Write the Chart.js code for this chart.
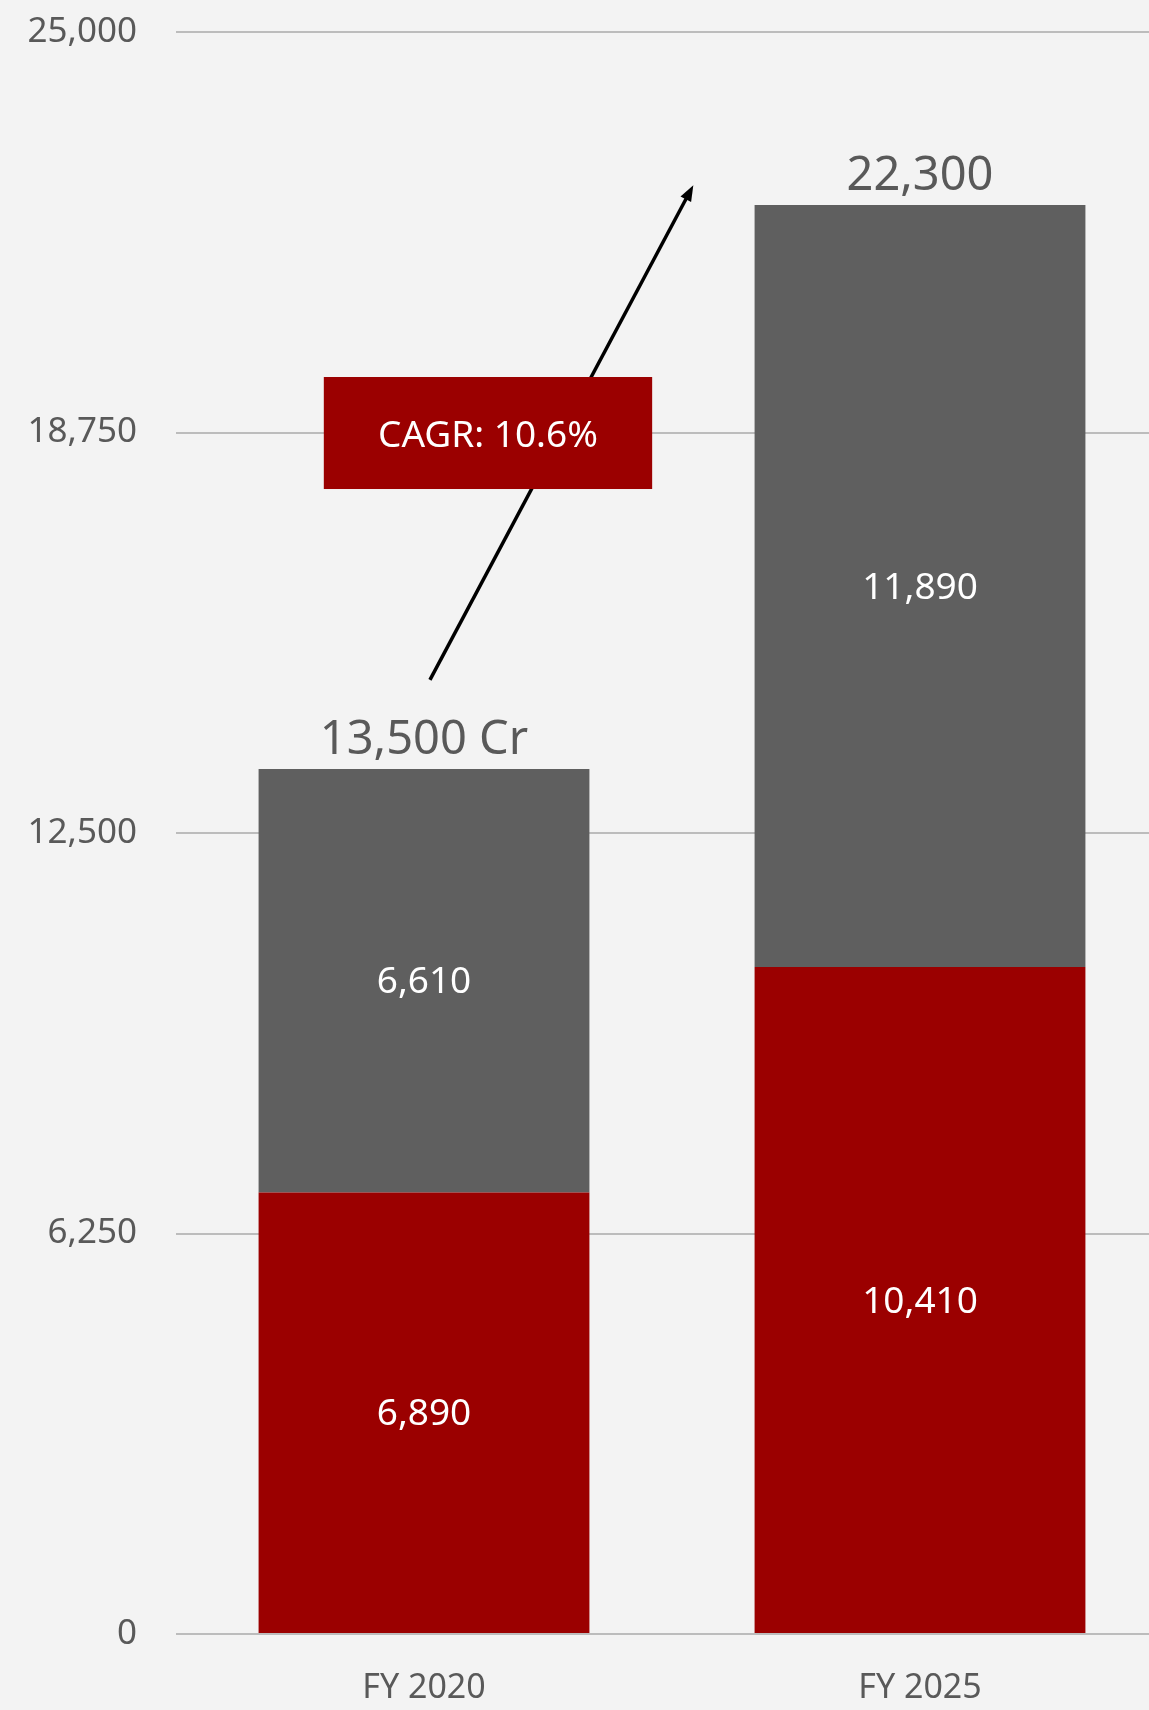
<!DOCTYPE html>
<html>
<head>
<meta charset="utf-8">
<script src="https://cdn.jsdelivr.net/npm/chart.js@4.4.0/dist/chart.umd.min.js"></script>
<style>
  html, body { margin: 0; padding: 0; background: #f3f3f3; overflow: hidden; }
  #wrap { width: 1168px; height: 1710px; }
</style>
</head>
<body>
<div id="wrap"><canvas id="fyChart" width="1168" height="1710"></canvas></div>
<script>
// data
var years = ["FY 2020", "FY 2025"];
var redPart = [6890, 10410];
var greyPart = [6610, 11890];
var totalLabels = ["13,500 Cr", "22,300"];
var yTicks = [0, 6250, 12500, 18750, 25000];
var cagrText = "CAGR: 10.6%";

var RED = "#9b0000";
var GREY = "#5f5f5f";
var FONT = "'Noto Sans', 'DejaVu Sans', sans-serif";

// white numbers inside segments + totals on top + cagr arrow/box
var labelPlugin = {
    id: "labelPlugin",
    afterDatasetsDraw: function (chart) {
        var c = chart.ctx;
        var xs = chart.scales.x, ys = chart.scales.y;
        c.save();
        c.textAlign = "center";
        c.textBaseline = "middle";
        c.font = "37px " + FONT;
        c.fillStyle = "#ffffff";
        chart.data.datasets.forEach(function (ds, di) {
            chart.getDatasetMeta(di).data.forEach(function (bar, i) {
                var mid = (bar.y + bar.base) / 2;
                c.fillText(ds.data[i].toLocaleString("en-US"), bar.x, mid + 2);
            });
        });

        // totals
        c.font = "47px " + FONT;
        c.fillStyle = "#595959";
        c.textBaseline = "alphabetic";
        var top = chart.getDatasetMeta(1).data;
        top.forEach(function (bar, i) {
            c.fillText(totalLabels[i], bar.x, bar.y - 15);
        });

        // arrow
        var x0 = xs.getPixelForValue(0.012), y0 = ys.getPixelForValue(14890);
        var x1 = xs.getPixelForValue(0.543), y1 = ys.getPixelForValue(22610);
        var ang = Math.atan2(y1 - y0, x1 - x0);
        c.strokeStyle = "#000";
        c.lineWidth = 3.5;
        c.beginPath();
        c.moveTo(x0, y0);
        c.lineTo(x1 - 10 * Math.cos(ang), y1 - 10 * Math.sin(ang));
        c.stroke();
        c.fillStyle = "#000";
        c.beginPath();
        c.moveTo(x1, y1);
        c.lineTo(x1 - 16 * Math.cos(ang) + 6 * Math.sin(ang), y1 - 16 * Math.sin(ang) - 6 * Math.cos(ang));
        c.lineTo(x1 - 16 * Math.cos(ang) - 6 * Math.sin(ang), y1 - 16 * Math.sin(ang) + 6 * Math.cos(ang));
        c.closePath();
        c.fill();

        // cagr box
        var bx0 = xs.getPixelForValue(-0.202), bx1 = xs.getPixelForValue(0.46);
        var by0 = ys.getPixelForValue(19616), by1 = ys.getPixelForValue(17868);
        c.fillStyle = RED;
        c.fillRect(bx0, by0, bx1 - bx0, by1 - by0);
        c.fillStyle = "#ffffff";
        c.font = "37px " + FONT;
        c.textBaseline = "middle";
        c.fillText(cagrText, (bx0 + bx1) / 2, (by0 + by1) / 2 + 3);
        c.restore();
    }
};

var ctx = document.getElementById("fyChart").getContext("2d");
window.fyChart = new Chart(ctx, {
    type: "bar",
    data: {
        labels: years,
        datasets: [
            { label: "part1", data: redPart, backgroundColor: RED, borderWidth: 0 },
            { label: "part2", data: greyPart, backgroundColor: GREY, borderWidth: 0 }
        ]
    },
    options: {
        responsive: false,
        animation: false,
        layout: { padding: { top: 32, right: 0, left: 0, bottom: 0 } },
        plugins: { legend: { display: false }, tooltip: { enabled: false } },
        datasets: { bar: { categoryPercentage: 1, barPercentage: 0.667 } },
        scales: {
            x: {
                stacked: true,
                grid: { display: false },
                border: { display: false },
                ticks: { color: "#595959", font: { family: FONT, size: 34 }, padding: 26 },
                afterFit: function (s) { s.height = 76; s.paddingLeft = 0; s.paddingRight = 0; }
            },
            y: {
                stacked: true,
                min: 0,
                max: 25000,
                afterBuildTicks: function (s) { s.ticks = yTicks.map(function (v) { return { value: v }; }); },
                grid: { color: "#bcbcbc", lineWidth: 2, drawTicks: false },
                border: { display: false },
                ticks: {
                    color: "#595959",
                    font: { family: FONT, size: 35 },
                    padding: 39,
                    callback: function (v) { return v.toLocaleString("en-US"); }
                },
                afterFit: function (s) { s.width = 176; s.paddingTop = 0; s.paddingBottom = 0; }
            }
        }
    },
    plugins: [labelPlugin]
});
</script>
</body>
</html>
